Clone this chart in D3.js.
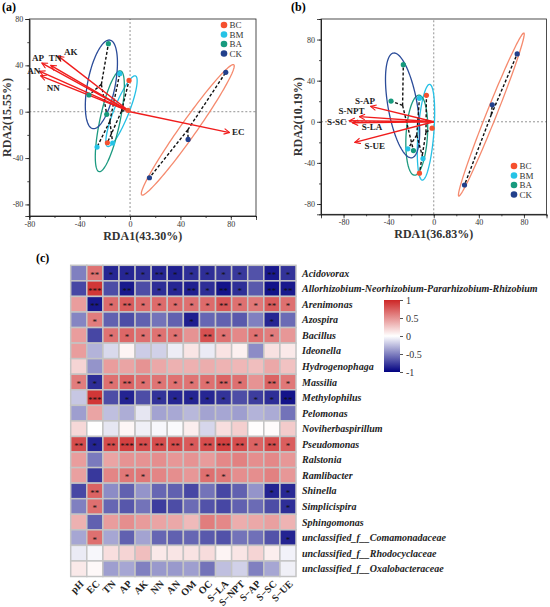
<!DOCTYPE html>
<html>
<head>
<meta charset="utf-8">
<script src="https://cdn.jsdelivr.net/npm/d3@7"></script>
<style>
  body { margin: 0; background: #fff; }
  text { font-family: "Liberation Serif", "Times New Roman", serif; }
</style>
</head>
<body>
<div id="chart"></div>
<script>
// ---------- data: RDA panels ----------
const groups = ["BC", "BM", "BA", "CK"]
const groupColor = ["#f4502f", "#25c3e6", "#169a7d", "#22408c"]
const ellipseColor = ["#25c0e5", "#1c9a80", "#2b4c99", "#f58a6e"]

// panel (a) sample scores per group
const samplesA = [
  [[-0.8, 27], [-18, -26.8], [-1.6, 1.2]],
  [[-8.2, 32.8], [-26.2, -30.5], [-13.8, -27]],
  [[-17.2, 58.7], [-32.6, 14.4], [-18.5, -2.3]],
  [[76, 34], [46.1, -23.9], [15.4, -57]]
]
// ellipse: semi-major, semi-minor, angle (deg) around group centroid
const ellipsesA = [[32.4, 6, 70], [44.3, 8, 79], [38.8, 11, 80], [67, 6.5, 57]]
const arrowNamesA = ["AK", "TN", "AP", "AN", "NN", "EC"]
const arrowTipsA = [[-57, 48], [-63, 40], [-70, 42], [-72, 35], [-71, 31], [79, -18]]
const arrowLabelA = [[-47, 52], [-59.5, 46.5], [-73, 46.5], [-76.5, 35.5], [-61, 21], [86, -17]]

// panel (b)
const samplesB = [
  [[-6.5, 25.7], [-1.5, -6.2], [-12.7, -50]],
  [[-12.7, 23], [-23, -26.3], [-9.5, -35.8]],
  [[-27, 55.6], [-37.9, 20.2], [-18, -28]],
  [[74, 66], [51.9, 16.6], [27.3, -61.5]]
]
const ellipsesB = [[46.7, 7, 86], [39, 9.5, 87], [51.6, 13, 99], [84.4, 4.5, 70]]
const arrowNamesB = ["S-AP", "S-NPT", "S-SC", "S-LA", "S-UE"]
const arrowTipsB = [[-56, 15], [-66, 5], [-75, 1], [-72, -1], [-70, -20]]
const arrowLabelB = [[-61, 20.5], [-73, 10.7], [-86, 0], [-54.8, -4.5], [-52.4, -23]]

const axisTicks = [-80, -40, 0, 40, 80]

// ---------- data: heatmap ----------
const envVars = ["pH", "EC", "TN", "AP", "AK", "NN", "AN", "OM", "OC", "S\u2212LA", "S\u2212NPT", "S\u2212AP", "S\u2212SC", "S\u2212UE"]
const genera = [
  "Acidovorax", "Allorhizobium-Neorhizobium-Pararhizobium-Rhizobium", "Arenimonas", "Azospira",
  "Bacillus", "Ideonella", "Hydrogenophaga", "Massilia", "Methylophilus", "Pelomonas",
  "Noviherbaspirillum", "Pseudomonas", "Ralstonia", "Ramlibacter", "Shinella", "Simplicispira",
  "Sphingomonas", "unclassified_f__Comamonadaceae", "unclassified_f__Rhodocyclaceae",
  "unclassified_f__Oxalobacteraceae"
]
const corr = [
  [-0.5, 0.65, -0.85, -0.85, -0.82, -0.85, -0.88, -0.82, -0.82, -0.78, -0.78, -0.68, -0.9, -0.8],
  [-0.72, 0.92, -0.7, -0.9, -0.7, -0.82, -0.85, -0.88, -0.82, -0.92, -0.82, -0.65, -0.93, -0.9],
  [0.45, -0.9, 0.68, 0.75, 0.68, 0.68, 0.68, 0.66, 0.68, 0.78, 0.66, 0.62, 0.75, 0.66],
  [-0.48, 0.6, -0.62, -0.7, -0.62, -0.55, -0.62, -0.88, -0.6, -0.62, -0.65, -0.5, -0.85, -0.58],
  [0.45, -0.72, 0.65, 0.7, 0.66, 0.65, 0.65, 0.5, 0.8, 0.65, 0.55, 0.65, 0.6, 0.48],
  [0.45, -0.3, -0.15, 0.05, -0.2, -0.18, -0.07, 0.12, -0.08, 0.13, 0.07, -0.45, 0.14, 0.1],
  [0.2, -0.42, 0.45, 0.42, 0.5, 0.4, 0.36, 0.36, 0.38, 0.35, 0.33, 0.3, 0.4, 0.28],
  [0.6, -0.82, 0.66, 0.72, 0.66, 0.64, 0.65, 0.64, 0.66, 0.72, 0.66, 0.5, 0.72, 0.62],
  [-0.22, 0.92, -0.7, -0.86, -0.7, -0.8, -0.85, -0.86, -0.85, -0.8, -0.7, -0.76, -0.82, -0.92],
  [-0.38, 0.42, -0.25, -0.32, -0.1, -0.36, -0.34, -0.28, -0.36, -0.35, -0.38, -0.3, -0.33, -0.55],
  [0.18, 0.0, -0.1, 0.04, -0.06, -0.03, -0.02, 0.08, -0.16, 0.15, 0.22, 0.01, 0.02, 0.24],
  [0.82, -0.86, 0.82, 0.88, 0.82, 0.82, 0.82, 0.76, 0.82, 0.88, 0.82, 0.72, 0.82, 0.74],
  [0.45, -0.52, 0.42, 0.5, 0.5, 0.52, 0.48, 0.5, 0.46, 0.55, 0.58, 0.52, 0.55, 0.48],
  [0.44, -0.78, 0.56, 0.62, 0.62, 0.56, 0.52, 0.48, 0.66, 0.62, 0.52, 0.52, 0.58, 0.48],
  [-0.72, 0.72, -0.45, -0.62, -0.42, -0.6, -0.62, -0.72, -0.55, -0.72, -0.62, -0.42, -0.86, -0.84],
  [-0.5, 0.66, -0.6, -0.66, -0.55, -0.76, -0.7, -0.58, -0.68, -0.72, -0.62, -0.58, -0.7, -0.82],
  [0.36, -0.62, 0.45, 0.52, 0.46, 0.42, 0.4, 0.32, 0.6, 0.55, 0.38, 0.4, 0.44, 0.35],
  [-0.35, 0.66, -0.35, -0.62, -0.36, -0.6, -0.62, -0.6, -0.65, -0.68, -0.55, -0.56, -0.68, -0.86],
  [-0.08, -0.03, 0.15, 0.2, 0.3, 0.1, 0.12, 0.13, 0.16, 0.05, 0.12, 0.2, 0.08, -0.05],
  [0.1, 0.03, -0.38, -0.35, -0.5, -0.4, -0.4, -0.38, -0.55, -0.25, -0.18, -0.5, -0.35, -0.06]
]
const sig = [
  ["", "**", "*", "*", "*", "**", "*", "*", "*", "*", "*", "", "**", "*"],
  ["", "***", "", "**", "", "*", "*", "**", "*", "**", "*", "", "**", "**"],
  ["", "**", "*", "**", "*", "*", "*", "*", "*", "**", "*", "*", "**", "*"],
  ["", "*", "", "", "", "", "", "*", "", "", "", "", "*", ""],
  ["", "", "*", "*", "*", "*", "*", "", "**", "*", "", "*", "*", ""],
  ["", "", "", "", "", "", "", "", "", "", "", "", "", ""],
  ["", "", "", "", "", "", "", "", "", "", "", "", "", ""],
  ["*", "*", "*", "**", "*", "*", "*", "*", "*", "**", "*", "", "**", "*"],
  ["", "***", "", "*", "", "*", "*", "*", "*", "*", "", "*", "*", "**"],
  ["", "", "", "", "", "", "", "", "", "", "", "", "", ""],
  ["", "", "", "", "", "", "", "", "", "", "", "", "", ""],
  ["**", "*", "**", "***", "**", "**", "**", "*", "**", "***", "**", "*", "**", "*"],
  ["", "", "", "", "", "", "", "", "", "", "", "", "", ""],
  ["", "", "", "*", "*", "", "", "", "*", "*", "", "", "", ""],
  ["", "**", "", "", "", "", "", "", "", "", "", "", "*", "*"],
  ["", "*", "", "", "", "", "", "", "", "", "", "", "", "*"],
  ["", "", "", "", "", "", "", "", "", "", "", "", "", ""],
  ["", "*", "", "", "", "", "", "", "", "", "", "", "", "*"],
  ["", "", "", "", "", "", "", "", "", "", "", "", "", ""],
  ["", "", "", "", "", "", "", "", "", "", "", "", "", ""]
]
const legendTicks = [1, 0.5, 0, -0.5, -1]

// ---------- drawing ----------
const svg = d3.select("#chart").append("svg").attr("width", 550).attr("height", 607)

const defs = svg.append("defs")
defs.append("marker")
    .attr("id", "head").attr("viewBox", "0 0 10 10")
    .attr("refX", 9).attr("refY", 5)
    .attr("markerWidth", 7).attr("markerHeight", 7)
    .attr("markerUnits", "userSpaceOnUse")
    .attr("orient", "auto")
  .append("path").attr("d", "M1,1 L9,5 L1,9")
    .attr("fill", "none").attr("stroke", "#f01c1c").attr("stroke-width", 1.6)

function rdaPanel(cfg) {
  const x = d3.scaleLinear().domain(cfg.xDomain).range(cfg.xRange)
  const y = d3.scaleLinear().domain(cfg.yDomain).range(cfg.yRange)
  const g = svg.append("g")

  // zero lines
  g.append("line").attr("x1", x(0)).attr("x2", x(0)).attr("y1", y.range()[0]).attr("y2", y.range()[1])
    .attr("stroke", "#777").attr("stroke-dasharray", "2,2").attr("stroke-width", 0.8)
  g.append("line").attr("y1", y(0)).attr("y2", y(0)).attr("x1", x.range()[0]).attr("x2", x.range()[1])
    .attr("stroke", "#777").attr("stroke-dasharray", "2,2").attr("stroke-width", 0.8)

  // ellipses around group centroids
  const centroids = cfg.samples.map(s => [d3.mean(s, d => d[0]), d3.mean(s, d => d[1])])
  const line = d3.line().x(d => x(d[0])).y(d => y(d[1])).curve(d3.curveLinearClosed)
  cfg.ellipses.forEach((e, i) => {
    const [a, b, ang] = e
    const th = ang * Math.PI / 180
    const pts = d3.range(0, 2 * Math.PI, Math.PI / 60).map(t => [
      centroids[i][0] + a * Math.cos(t) * Math.cos(th) - b * Math.sin(t) * Math.sin(th),
      centroids[i][1] + a * Math.cos(t) * Math.sin(th) + b * Math.sin(t) * Math.cos(th)
    ])
    g.append("path").attr("d", line(pts)).attr("fill", "none")
      .attr("stroke", ellipseColor[i]).attr("stroke-width", 1.3)
  })

  // spider lines
  cfg.samples.forEach((s, i) => {
    s.forEach(p => {
      g.append("line").attr("x1", x(centroids[i][0])).attr("y1", y(centroids[i][1]))
        .attr("x2", x(p[0])).attr("y2", y(p[1]))
        .attr("stroke", "#111").attr("stroke-width", 1.4).attr("stroke-dasharray", "3,2")
    })
  })

  // arrows
  cfg.tips.forEach((t, i) => {
    g.append("line").attr("x1", x(0)).attr("y1", y(0)).attr("x2", x(t[0])).attr("y2", y(t[1]))
      .attr("stroke", "#f01c1c").attr("stroke-width", 1.4).attr("marker-end", "url(#head)")
    g.append("text").attr("x", x(cfg.labelPos[i][0])).attr("y", y(cfg.labelPos[i][1]))
      .attr("text-anchor", "middle").attr("dy", "0.35em")
      .attr("font-size", 9).attr("font-weight", "bold").attr("fill", "#222")
      .text(cfg.names[i])
  })

  // points
  cfg.samples.forEach((s, i) => {
    g.selectAll(null).data(s).enter().append("circle")
      .attr("cx", d => x(d[0])).attr("cy", d => y(d[1])).attr("r", 2.6)
      .attr("fill", groupColor[i])
  })

  // frame and axes
  g.append("rect").attr("x", x.range()[0]).attr("y", y.range()[1])
    .attr("width", x.range()[1] - x.range()[0]).attr("height", y.range()[0] - y.range()[1])
    .attr("fill", "none").attr("stroke", "#222").attr("stroke-width", 0.8)

  const minorX = d3.range(Math.ceil(cfg.xDomain[0] / 20) * 20, cfg.xDomain[1] + 1, 20)
  const minorY = d3.range(Math.ceil(cfg.yDomain[0] / 20) * 20, cfg.yDomain[1] + 1, 20)
  const ax = g.append("g").attr("transform", `translate(0,${y.range()[0]})`)
  ax.call(d3.axisBottom(x).tickValues(minorX).tickSize(2).tickFormat(""))
  ax.append("g").call(d3.axisBottom(x).tickValues(axisTicks).tickSize(4).tickPadding(1).tickFormat(d => String(d)))
  const ay = g.append("g").attr("transform", `translate(${x.range()[0]},0)`)
  ay.call(d3.axisLeft(y).tickValues(minorY).tickSize(2).tickFormat(""))
  ay.append("g").call(d3.axisLeft(y).tickValues(axisTicks).tickSize(4).tickPadding(2).tickFormat(d => String(d)))
  g.selectAll(".domain").attr("stroke", "#222").attr("stroke-width", 0.8)
  g.selectAll(".tick line").attr("stroke", "#222").attr("stroke-width", 0.8)
  g.selectAll(".tick text").attr("font-family", "Liberation Serif, serif").attr("font-size", 8).attr("fill", "#333")

  // titles
  g.append("text").attr("x", (x.range()[0] + x.range()[1]) / 2).attr("y", y.range()[0] + 23.5)
    .attr("text-anchor", "middle").attr("font-size", 12).attr("font-weight", "bold").attr("fill", "#333")
    .text(cfg.xTitle)
  g.append("text").attr("transform", `translate(${x.range()[0] - cfg.yTitleOff},${(y.range()[0] + y.range()[1]) / 2}) rotate(-90)`)
    .attr("text-anchor", "middle").attr("font-size", 12).attr("font-weight", "bold").attr("fill", "#333")
    .text(cfg.yTitle)
  g.append("text").attr("x", cfg.tag[0]).attr("y", cfg.tag[1]).attr("font-size", 12)
    .attr("font-weight", "bold").text(cfg.tagText)

  // legend
  groups.forEach((name, i) => {
    g.append("circle").attr("cx", cfg.legend[0]).attr("cy", cfg.legend[1] + i * 9.5)
      .attr("r", 3.3).attr("fill", groupColor[i])
    g.append("text").attr("x", cfg.legend[0] + 5.5).attr("y", cfg.legend[1] + i * 9.5)
      .attr("dy", "0.35em").attr("font-size", 9).attr("fill", "#333").text(name)
  })
}

rdaPanel({
  xDomain: [-80, 100], xRange: [29.3, 256], yDomain: [-90, 80], yRange: [216, 19],
  samples: samplesA, ellipses: ellipsesA, tips: arrowTipsA, names: arrowNamesA, labelPos: arrowLabelA,
  xTitle: "RDA1(43.30%)", yTitle: "RDA2(15.55%)", yTitleOff: 18, tag: [2, 11], tagText: "(a)", legend: [224, 25]
})
rdaPanel({
  xDomain: [-100, 100], xRange: [321, 546.5], yDomain: [-90, 100], yRange: [214.3, 19],
  samples: samplesB, ellipses: ellipsesB, tips: arrowTipsB, names: arrowNamesB, labelPos: arrowLabelB,
  xTitle: "RDA1(36.83%)", yTitle: "RDA2(10.19%)", yTitleOff: 19, tag: [291, 11], tagText: "(b)", legend: [514, 166]
})

// ---------- heatmap ----------
const hx = d3.scaleBand().domain(envVars).range([70.7, 296])
const hy = d3.scaleBand().domain(genera).range([265.3, 576.5])
const color = d3.scaleLinear().domain([-1, 0, 1]).range(["#000080", "#ffffff", "#cd2626"])

const cells = []
corr.forEach((row, i) => row.forEach((v, j) => cells.push({ r: genera[i], c: envVars[j], v, s: sig[i][j] })))

const hm = svg.append("g")
hm.selectAll("rect").data(cells).enter().append("rect")
  .attr("x", d => hx(d.c)).attr("y", d => hy(d.r))
  .attr("width", hx.bandwidth()).attr("height", hy.bandwidth())
  .attr("fill", d => color(d.v)).attr("stroke", "#c4c4c4").attr("stroke-width", 1.5)
hm.selectAll(".star").data(cells.filter(d => d.s)).enter().append("text")
  .attr("x", d => hx(d.c) + hx.bandwidth() / 2).attr("y", d => hy(d.r) + hy.bandwidth() / 2 + 5)
  .attr("text-anchor", "middle").attr("font-size", 9).attr("fill", "#111").text(d => d.s)

hm.selectAll(".rowlab").data(genera).enter().append("text")
  .attr("x", 302).attr("y", d => hy(d) + hy.bandwidth() / 2).attr("dy", "0.35em")
  .attr("font-size", 10).attr("font-weight", "bold").attr("font-style", "italic").attr("fill", "#222")
  .text(d => d)
hm.selectAll(".collab").data(envVars).enter().append("text")
  .attr("transform", d => `translate(${hx(d) + hx.bandwidth() / 2 + 3},${582}) rotate(-45)`)
  .attr("text-anchor", "end").attr("dy", "0.35em")
  .attr("font-size", 10).attr("font-weight", "bold").attr("fill", "#222")
  .text(d => d)
svg.append("text").attr("x", 36).attr("y", 262).attr("font-size", 12).attr("font-weight", "bold").text("(c)")

// color legend
const lg = defs.append("linearGradient").attr("id", "grad").attr("x1", 0).attr("x2", 0).attr("y1", 1).attr("y2", 0)
d3.range(0, 1.001, 0.1).forEach(t => lg.append("stop").attr("offset", t).attr("stop-color", color(t * 2 - 1)))
const ly = d3.scaleLinear().domain([-1, 1]).range([372, 300])
svg.append("rect").attr("x", 384).attr("y", 300).attr("width", 16).attr("height", 72).attr("fill", "url(#grad)")
const la = svg.append("g").attr("transform", "translate(400,0)")
  .call(d3.axisRight(ly).tickValues(legendTicks).tickSize(3).tickFormat(d => String(d)))
la.select(".domain").remove()
la.selectAll(".tick line").attr("stroke", "#555")
la.selectAll(".tick text").attr("font-family", "Liberation Serif, serif").attr("font-size", 10).attr("fill", "#333")
</script>
</body>
</html>
